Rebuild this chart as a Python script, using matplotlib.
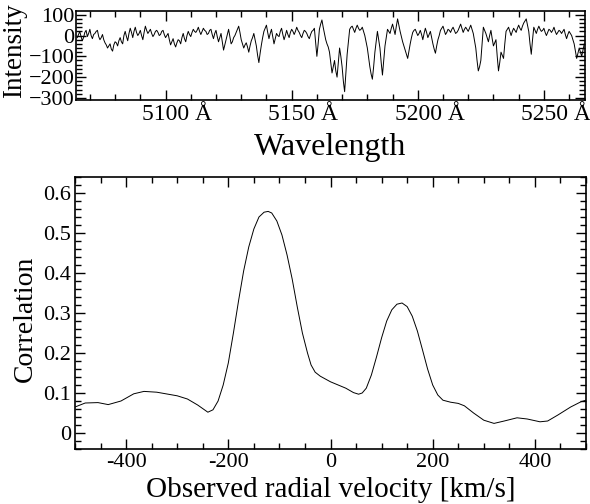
import numpy as np
import matplotlib
matplotlib.use("Agg")
import matplotlib.pyplot as plt
from matplotlib.ticker import MultipleLocator, FuncFormatter
from matplotlib.transforms import ScaledTranslation

# ---- spectrum (top panel) ----
wave_start = 5065
# intensities at whole Angstroms (5065, 5066, ...)
spec_whole = [
    -10, 20, -25, 15, -5, 30, -15, 10, 25, -20,
    5, -35, -60, -40, -75, -30, -50, -10, -40, 20,
    -25, 35, -10, 40, 0, 25, -20, 45, 10, 30,
    -5, 20, 15, 5, 25, -10, 10, -45, -15, -55,
    -20, -40, 10, -30, 20, -5, 30, 15, 40, 5,
    35, 20, 10, 30, -15, 25, -30, 10, -70, -20,
    30, -40, -10, 15, 45, -20, -60, -35, -80, -25,
    10, -50, -130, -45, 20, 50, -15, 30, -40, 10,
    -5, 35, -20, 25, -10, 30, 5, 40, 15, -10,
    25, 10, -15, 20, 35, -100, 30, 75, 10, -40,
    -80, -180, -120, -200, -60, -150, -270, -90, 30, 45,
    15, 50, 25, 40, 0, -60, -150, -210, -80, 20,
    -60, -190, -50, 30, 10, 55, 5, 80, 20, -30,
    -70, -110, -40, 15, 30, 0, 25, -20, 35, -10,
    20, -40, -85, -20, 25, 45, 5, 30, 15, 40,
    10, 25, 55, 15, 40, 20, 50, 10, -60, -170,
    -120, 40, 10, -30, 25, -50, -20, -170, -80, -110,
    20, 40, 0, 35, 15, 50, 25, 60, 80, 20,
    -90, 40, 10, 45, 20, 35, 0, 30, 15, 40,
    5, 25, 10, 30, -15, 20, 0, -40, -110, -60,
    -100, -40,
]
# intensities at half Angstroms (5065.5, 5066.5, ...)
spec_half = [
    5, -5, -10, 25, 10, 0, 5, 20, -5, -10,
    -20, -45, -50, -65, -45, -35, -25, -30, 0, -5,
    10, 15, 20, 15, 10, 0, 15, 25, 20, 10,
    5, 25, 0, 20, 5, 0, -20, -30, -40, -35,
    -25, -10, -15, 0, 5, 15, 20, 25, 20, 20,
    25, 5, 25, 5, 10, -5, -10, -30, -45, 5,
    -5, -30, 0, 30, 15, -40, -45, -55, -50, -10,
    -20, -95, -85, -10, 35, 15, 10, -5, -15, 0,
    20, 5, 0, 5, 15, 20, 20, 25, 0, 10,
    20, -5, 5, 25, -30, -40, 55, 40, -20, -55,
    -130, -150, -170, -130, -100, -220, -180, -30, 40, 30,
    35, 35, 30, 20, -30, -105, -185, -150, -30, -20,
    -130, -120, -10, 20, 35, 30, 45, 50, -5, -50,
    -90, -75, -10, 25, 15, 10, 5, 10, 15, 5,
    -10, -65, -50, 0, 35, 25, 15, 25, 30, 25,
    15, 40, 35, 30, 30, 35, 30, -25, -120, -150,
    -40, 25, -10, 0, -15, -35, -100, -130, -95, -40,
    30, 20, 20, 25, 35, 35, 45, 70, 50, -40,
    -20, 25, 30, 30, 25, 15, 15, 25, 25, 20,
    15, 20, 20, 5, 5, 10, -20, -75, -85, -80,
    -70,
]
spec_intensity = np.empty(len(spec_whole) + len(spec_half))
spec_intensity[0::2] = spec_whole
spec_intensity[1::2] = spec_half
spec_wave = wave_start + 0.5 * np.arange(len(spec_intensity))

# ---- cross-correlation (bottom panel) ----
rv_velocity = [
    -500, -480, -455, -435, -410, -385, -365, -340, -300, -280,
    -260, -240, -230, -220, -210, -200, -190, -180, -170, -160,
    -150, -140, -130, -122, -115, -105, -95, -85, -75, -65,
    -55, -45, -38, -30, -20, -10, 0, 15, 30, 45,
    55, 62, 70, 80, 90, 100, 110, 120, 130, 140,
    150, 160, 170, 180, 190, 200, 210, 220, 235, 250,
    262, 280, 300, 320, 340, 365, 385, 410, 425, 445,
    470, 490, 500,
]
rv_correlation = [
    0.065, 0.075, 0.076, 0.071, 0.080, 0.098, 0.104, 0.102, 0.093, 0.085,
    0.070, 0.052, 0.058, 0.080, 0.120, 0.175, 0.250, 0.330, 0.405, 0.465,
    0.510, 0.540, 0.552, 0.554, 0.550, 0.530, 0.495, 0.445, 0.385, 0.315,
    0.250, 0.200, 0.170, 0.152, 0.142, 0.135, 0.128, 0.120, 0.112, 0.101,
    0.097, 0.100, 0.112, 0.145, 0.190, 0.238, 0.280, 0.308, 0.322, 0.325,
    0.316, 0.292, 0.255, 0.208, 0.160, 0.120, 0.095, 0.082, 0.077, 0.074,
    0.068, 0.050, 0.032, 0.024, 0.030, 0.038, 0.035, 0.028, 0.030, 0.045,
    0.065, 0.078, 0.082,
]

plt.rcParams['font.family'] = ['Liberation Serif', 'DejaVu Serif']

W, H = 590, 504
fig = plt.figure(figsize=(W / 100, H / 100), dpi=100)

def frac(l, t, r, b):
    return [l / W, 1 - b / H, (r - l) / W, (b - t) / H]

def style(ax):
    for s in ax.spines.values():
        s.set_linewidth(1.2)
    ax.tick_params(which='both', direction='in', top=True, right=True, width=1.0)
    ax.tick_params(which='major', length=7)
    ax.tick_params(which='minor', length=4)

# top panel
ax1 = fig.add_axes(frac(76, 11, 585, 100))
ax1.plot(spec_wave, spec_intensity, color='black', lw=0.7)
ax1.set_xlim(5064.5, 5266.3)
ax1.set_ylim(-310, 118)
style(ax1)
ax1.xaxis.set_major_locator(MultipleLocator(50))
ax1.xaxis.set_minor_locator(MultipleLocator(10))
ax1.yaxis.set_major_locator(MultipleLocator(100))
ax1.yaxis.set_minor_locator(MultipleLocator(20))
ax1.xaxis.set_major_formatter(FuncFormatter(lambda v, p: f"{int(round(v))} Å"))
ax1.tick_params(axis='x', labelsize=17, pad=3)
ax1.tick_params(axis='y', labelsize=16, pad=1)
for lab in ax1.get_xticklabels():
    lab.set_transform(lab.get_transform() + ScaledTranslation(8.5 / 72, 0, fig.dpi_scale_trans))
ax1.set_xlabel('Wavelength', fontsize=23)
ax1.xaxis.label.set_va('center')
ax1.xaxis.set_label_coords(0.5, (100 - 148) / 89)
ax1.set_ylabel('Intensity', fontsize=19.5)
ax1.yaxis.label.set_va('center')
ax1.yaxis.set_label_coords((15 - 76) / 509, 0.55)

# bottom panel
ax2 = fig.add_axes(frac(75, 177, 586, 449))
ax2.plot(rv_velocity, rv_correlation, color='black', lw=0.7)
ax2.set_xlim(-500, 500)
ax2.set_ylim(-0.04, 0.64)
style(ax2)
ax2.xaxis.set_major_locator(MultipleLocator(200))
ax2.xaxis.set_minor_locator(MultipleLocator(50))
ax2.yaxis.set_major_locator(MultipleLocator(0.1))
ax2.yaxis.set_minor_locator(MultipleLocator(0.02))
ax2.xaxis.set_major_formatter(FuncFormatter(lambda v, p: f"{int(round(v))}"))
ax2.yaxis.set_major_formatter(FuncFormatter(lambda v, p: "0" if abs(v) < 1e-9 else f"{v:.1f}"))
ax2.tick_params(axis='x', labelsize=16, pad=3)
ax2.tick_params(axis='y', labelsize=16, pad=3)
ax2.set_xlabel('Observed radial velocity [km/s]', fontsize=21)
ax2.xaxis.label.set_va('bottom')
ax2.xaxis.set_label_coords(0.5, -(503 - 449) / 272)
ax2.set_ylabel('Correlation', fontsize=20)
ax2.yaxis.label.set_va('center')
ax2.yaxis.set_label_coords((25 - 75) / 511, 0.48)

fig.savefig('out.png', dpi=100)
